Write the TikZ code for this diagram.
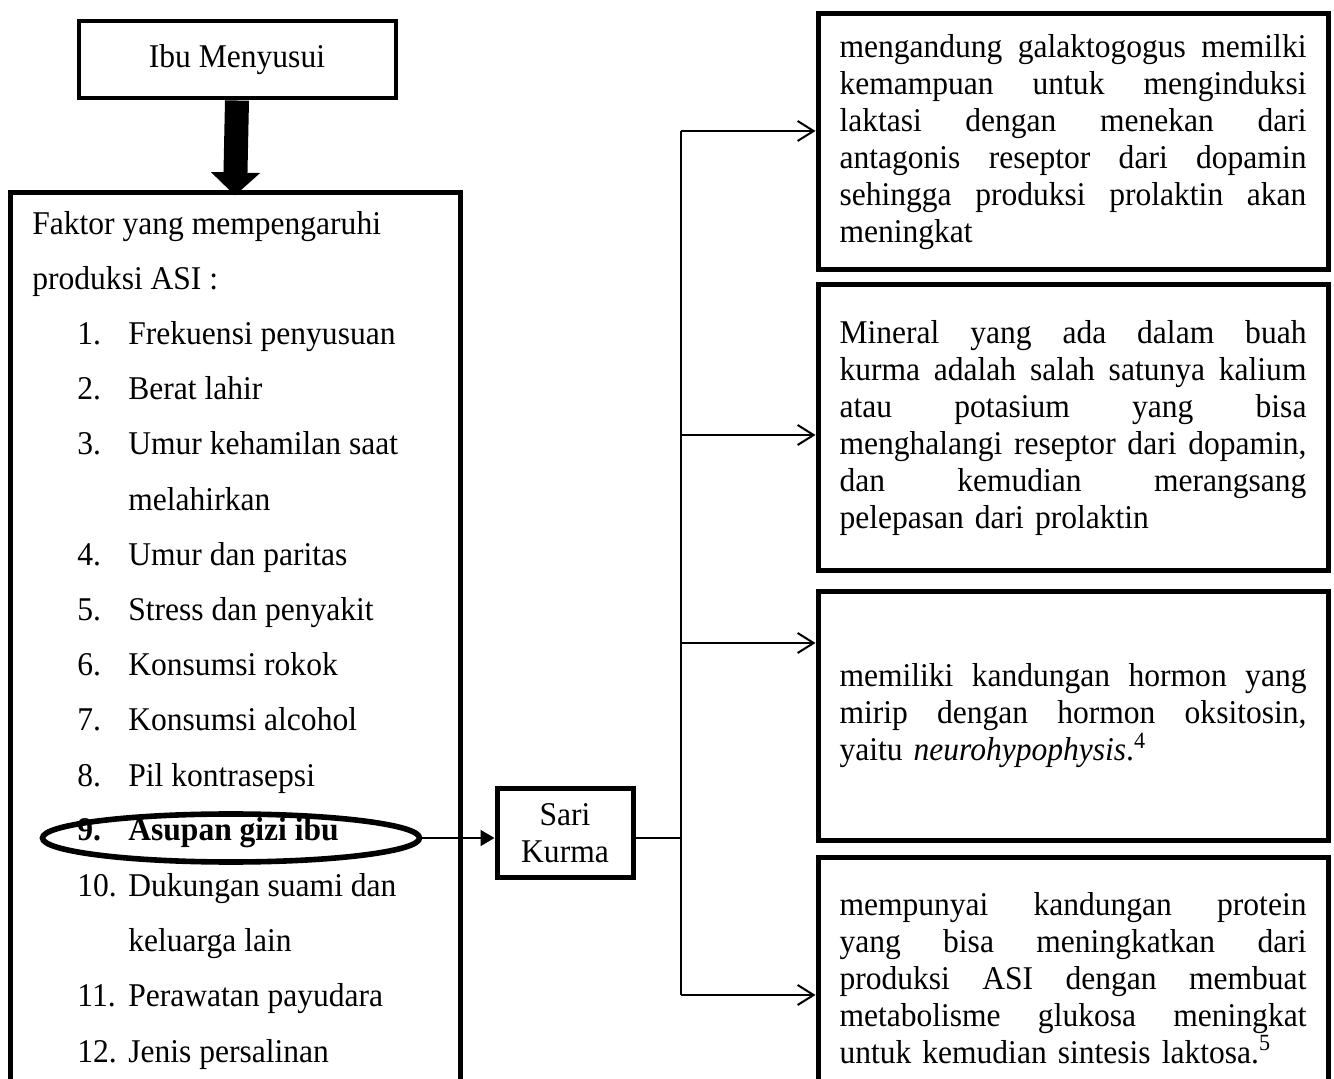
\documentclass[tikz,border=0pt]{standalone}
\usepackage{fontspec}
\setmainfont{Liberation Serif}[FakeStretch=0.95]
\usetikzlibrary{arrows.meta,shapes.geometric}
\newcommand\jl[1]{\leavevmode\hbox to 233.5pt{\spaceskip=0.25em plus 1fil\relax #1}}
\begin{document}
\begin{tikzpicture}[x=0.5pt,y=-0.5pt,
  every node/.style={font=\fontsize{16.6}{18.5}\selectfont},
  box/.style={draw,line width=2.5pt,rectangle,inner sep=0pt},
  rbox/.style={box,minimum width=255pt,text width=233.5pt,align=left},
  conn/.style={line width=1pt},
  barb/.style={conn,-{Straight Barb[length=8pt,width=10pt,line width=1pt]}},
  item/.style={anchor=base west,inner sep=0pt},
]
\useasboundingbox (0,0) rectangle (1334,1079);
\clip (0,0) rectangle (1334,1079);

% top box and big arrow
\node[box,line width=2pt,minimum width=158.5pt,minimum height=38.5pt] (ibu) at (237,60) {Ibu Menyusui};
\node[box,minimum width=225pt,minimum height=458.5pt] (fak) at (235,651.5) {};
\draw[line width=12pt,-{Triangle[length=11.5pt,width=24pt]}] (ibu.south) -- ([yshift=-2.5pt]fak.north);

% list text
\node[item] (t0) at (32,235) {Faktor yang mempengaruhi};
\node[item] (t1) at (32,290) {produksi ASI :};
\node[item] (n1) at (77,345) {1.};  \node[item] (i1) at (128,345) {Frekuensi penyusuan};
\node[item] (n2) at (77,400) {2.};  \node[item] (i2) at (128,400) {Berat lahir};
\node[item] (n3) at (77,455) {3.};  \node[item] (i3) at (128,455) {Umur kehamilan saat};
\node[item] (i3b) at (128,511) {melahirkan};
\node[item] (n4) at (77,566) {4.};  \node[item] (i4) at (128,566) {Umur dan paritas};
\node[item] (n5) at (77,621) {5.};  \node[item] (i5) at (128,621) {Stress dan penyakit};
\node[item] (n6) at (77,676) {6.};  \node[item] (i6) at (128,676) {Konsumsi rokok};
\node[item] (n7) at (77,731) {7.};  \node[item] (i7) at (128,731) {Konsumsi alcohol};
\node[item] (n8) at (77,786) {8.};  \node[item] (i8) at (128,786) {Pil kontrasepsi};
\node[item] (n9) at (77,841) {\bfseries 9.};  \node[item] (i9) at (128,841) {\bfseries Asupan gizi ibu};
\node[item] (n10) at (77,896) {10.}; \node[item] (i10) at (128,896) {Dukungan suami dan};
\node[item] (i10b) at (128,951) {keluarga lain};
\node[item] (n11) at (77,1006) {11.}; \node[item] (i11) at (128,1006) {Perawatan payudara};
\node[item] (n12) at (77,1062) {12.}; \node[item] (i12) at (128,1062) {Jenis persalinan};

% ellipse highlight
\node[draw,ellipse,line width=2.8pt,minimum width=188.5pt,minimum height=24pt,inner sep=0pt] (ell) at (231,838) {};

% Sari Kurma
\node[box,minimum width=68pt,minimum height=44.5pt,align=center] (sari) at (565,833) {Sari\\Kurma};
\draw[conn,-{Triangle[length=7pt,width=8pt]}] (ell.east) -- (ell.east -| sari.west);

% right boxes
\node[rbox,minimum height=128pt] (r1) at (1073,142) {%
\jl{mengandung galaktogogus memilki}\\
\jl{kemampuan untuk menginduksi}\\
\jl{laktasi dengan menekan dari}\\
\jl{antagonis reseptor dari dopamin}\\
\jl{sehingga produksi prolaktin akan}\\
meningkat};
\node[rbox,minimum height=143pt] (r2) at (1073,428) {%
\jl{Mineral yang ada dalam buah}\\
\jl{kurma adalah salah satunya kalium}\\
\jl{atau potasium yang bisa}\\
\jl{menghalangi reseptor dari dopamin,}\\
\jl{dan kemudian merangsang}\\
pelepasan dari prolaktin};
\node[rbox,minimum height=124pt] (r3) at (1073,716) {%
\jl{memiliki kandungan hormon yang}\\
\jl{mirip dengan hormon oksitosin,}\\
yaitu \textit{neurohypophysis}.\textsuperscript{4}};
\node[rbox,minimum height=121pt] (r4) at (1073,978) {%
\jl{mempunyai kandungan protein}\\
\jl{yang bisa meningkatkan dari}\\
\jl{produksi ASI dengan membuat}\\
\jl{metabolisme glukosa meningkat}\\
untuk kemudian sintesis laktosa.\textsuperscript{5}};

% connectors
\coordinate (jc) at (681,838);
\coordinate (j1) at (681,131);
\coordinate (j2) at (681,435);
\coordinate (j3) at (681,643);
\coordinate (j4) at (681,995);
\draw[conn] (sari.east |- jc) -- (jc);
\draw[conn] (j1) -- (j4);
\draw[barb] (j1) -- (j1 -| r1.west);
\draw[barb] (j2) -- (j2 -| r2.west);
\draw[barb] (j3) -- (j3 -| r3.west);
\draw[barb] (j4) -- (j4 -| r4.west);
\end{tikzpicture}
\end{document}
